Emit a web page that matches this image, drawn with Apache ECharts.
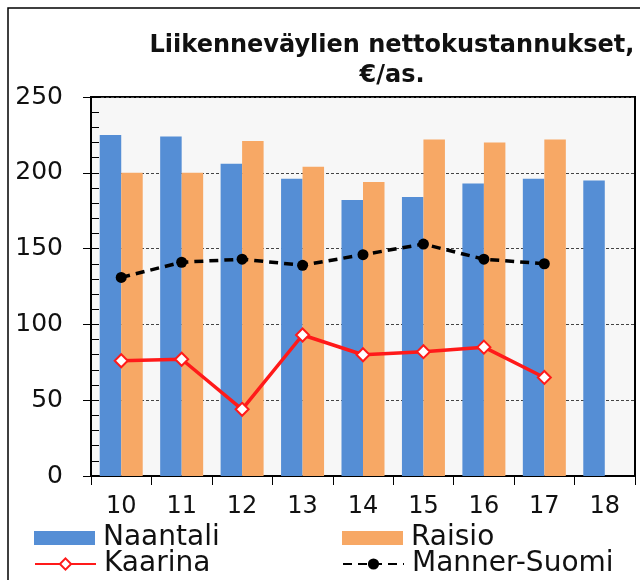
<!DOCTYPE html>
<html>
    <head>
        <meta charset="utf-8">
        <script src="https://cdn.jsdelivr.net/npm/echarts@6.0.0/dist/echarts.min.js"></script>
        <style type="text/css">
            #main {height:580px;width:640px;position:absolute;}
            body {margin:0px;padding:0px;overflow:hidden;background:#fff;}
        </style>
    </head>
    <body>
        <div id="main"></div>
        <script type="text/javascript">
            // data
            let years = ['10', '11', '12', '13', '14', '15', '16', '17', '18'];
            let naantali = [225, 224, 206, 196, 182, 184, 193, 196, 195];
            let raisio = [200, 200, 221, 204, 194, 222, 220, 222, null];
            let kaarina = [76, 77, 44, 93, 80, 82, 85, 65, null];
            let mannerSuomi = [131, 141, 143, 139, 146, 153, 143, 140, null];

            let font = 'DejaVu Sans';
            let myChart = echarts.init(document.getElementById('main'), null, {renderer: 'canvas'});

            // one legend per item so they sit in a 2x2 block
            function legendItem(name, left, top, icon) {
                let lg = {
                    data: [name],
                    left: left,
                    top: top,
                    padding: 0,
                    itemWidth: 61,
                    itemHeight: 14,
                    itemGap: 0,
                    textStyle: {fontFamily: font, fontSize: 28, color: '#111', padding: [0, 0, 0, 3]}
                };
                if (icon) lg.icon = icon;
                return lg;
            }

            let option = {
                animation: false,
                backgroundColor: '#fff',
                title: {
                    text: 'Liikenneväylien nettokustannukset,\n€/as.',
                    left: 392,
                    top: 31,
                    padding: 0,
                    textAlign: 'center',
                    textStyle: {fontFamily: font, fontWeight: 'bold', fontSize: 24, lineHeight: 30, color: '#111'}
                },
                graphic: [{
                    type: 'rect',
                    shape: {x: 8, y: 8, width: 700, height: 700},
                    style: {fill: null, stroke: '#000', lineWidth: 1.5},
                    silent: true,
                    z: -1
                }],
                legend: [
                    legendItem('Naantali', 34, 524, 'rect'),
                    legendItem('Raisio', 342, 524, 'rect'),
                    legendItem('Kaarina', 34, 550),
                    legendItem('Manner-Suomi', 342, 550)
                ],
                grid: {
                    left: 91, right: 5, top: 97, bottom: 104,
                    show: true,
                    backgroundColor: '#f7f7f7',
                    borderColor: '#000',
                    borderWidth: 2
                },
                xAxis: {
                    type: 'category',
                    data: years,
                    axisLine: {lineStyle: {color: '#000', width: 2}},
                    axisTick: {show: true, length: 9, lineStyle: {color: '#000', width: 1}},
                    axisLabel: {fontFamily: font, fontSize: 24, color: '#111', margin: 19}
                },
                yAxis: [{
                    type: 'value',
                    min: 0,
                    max: 250,
                    interval: 50,
                    axisLine: {show: true, lineStyle: {color: '#000', width: 2}},
                    axisTick: {show: true, length: 8, lineStyle: {color: '#000', width: 1}},
                    axisLabel: {fontFamily: font, fontSize: 25, color: '#111', margin: 28},
                    splitLine: {show: true, lineStyle: {color: '#444', width: 1, type: [3, 2]}}
                }, {
                    // small inside ticks every 10
                    type: 'value',
                    min: 0,
                    max: 250,
                    interval: 10,
                    position: 'left',
                    axisLine: {show: false},
                    axisTick: {show: true, inside: true, length: 8, lineStyle: {color: '#000', width: 1}},
                    axisLabel: {show: false},
                    splitLine: {show: false}
                }],
                series: [{
                    name: 'Naantali',
                    type: 'bar',
                    data: naantali,
                    barWidth: 21.5,
                    barGap: '0%',
                    itemStyle: {color: '#558ed5'}
                }, {
                    name: 'Raisio',
                    type: 'bar',
                    data: raisio,
                    barWidth: 21.5,
                    barGap: '0%',
                    itemStyle: {color: '#f7a865'}
                }, {
                    name: 'Kaarina',
                    type: 'line',
                    data: kaarina,
                    symbol: 'diamond',
                    symbolSize: 13,
                    z: 3,
                    lineStyle: {color: '#ff1a1a', width: 3.5},
                    itemStyle: {color: '#fff', borderColor: '#ff1a1a', borderWidth: 2}
                }, {
                    name: 'Manner-Suomi',
                    type: 'line',
                    data: mannerSuomi,
                    symbol: 'circle',
                    symbolSize: 11,
                    z: 4,
                    lineStyle: {color: '#000', width: 3.5, type: [9, 6]},
                    itemStyle: {color: '#000'}
                }]
            };

            myChart.setOption(option);
            window.onresize = myChart.resize;
        </script>
    </body>
</html>
